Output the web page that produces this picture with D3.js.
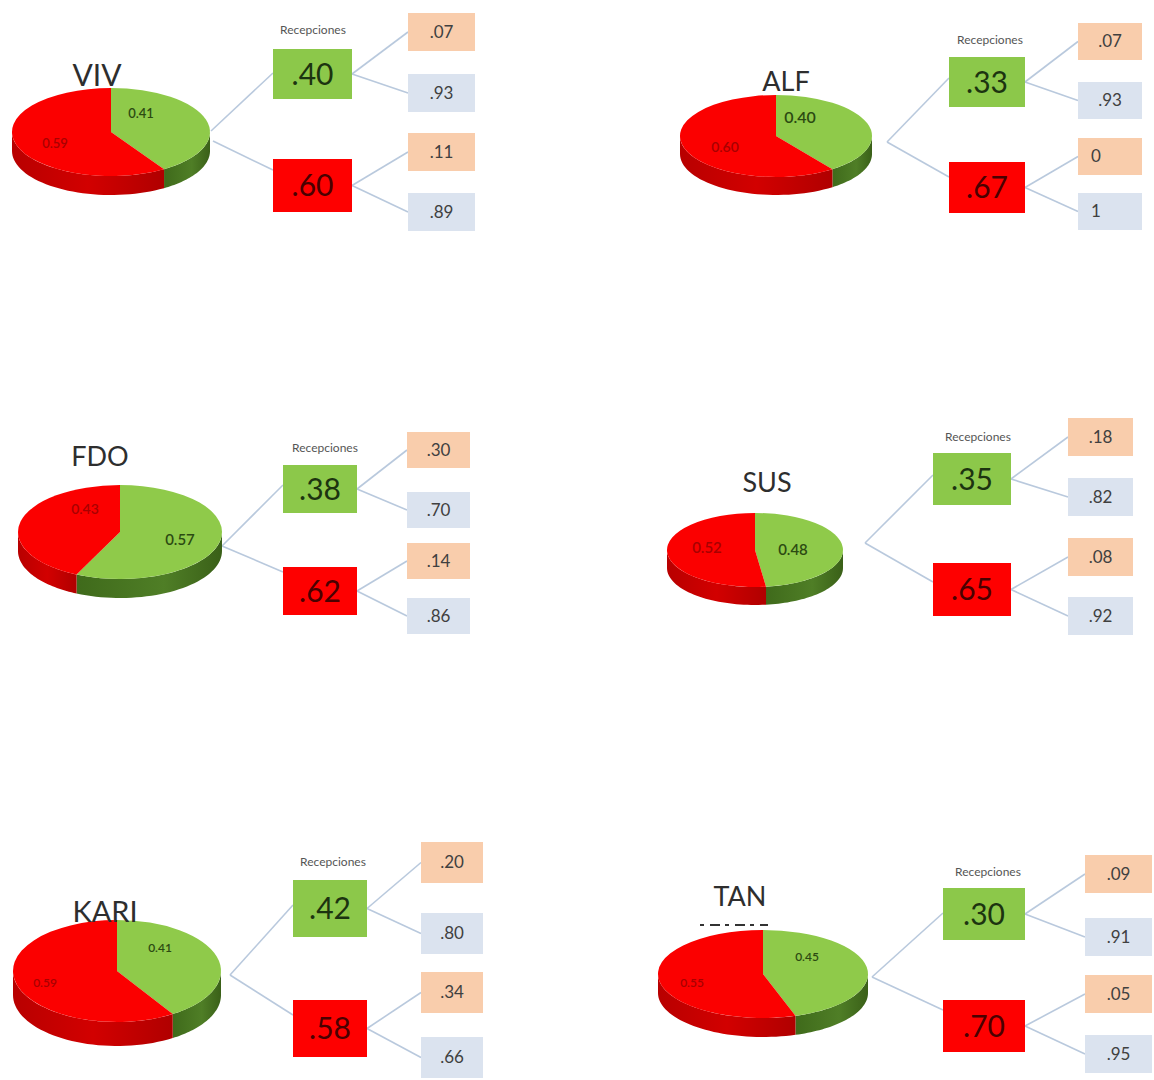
<!DOCTYPE html>
<html>
<head>
<meta charset="utf-8">
<script src="https://cdn.jsdelivr.net/npm/d3@7"></script>
<style>
  body { margin: 0; background: #fff; }
  text { font-family: Lato, "Open Sans", sans-serif; }
</style>
</head>
<body>
<div id="white"></div>
<script>
// values
var players = ["VIV", "ALF", "FDO", "SUS", "KARI", "TAN"];
var greenShare = [0.41, 0.40, 0.57, 0.48, 0.41, 0.45];
var redShare = [0.59, 0.60, 0.43, 0.52, 0.59, 0.55];
var recepGreen = [0.40, 0.33, 0.38, 0.35, 0.42, 0.30];
var recepRed = [0.60, 0.67, 0.62, 0.65, 0.58, 0.70];
var greenSplit = [[0.07, 0.93], [0.07, 0.93], [0.30, 0.70], [0.18, 0.82], [0.20, 0.80], [0.09, 0.91]];
var redSplit = [[0.11, 0.89], [0, 1], [0.14, 0.86], [0.08, 0.92], [0.34, 0.66], [0.05, 0.95]];
var branchTitle = "Recepciones";

// where each panel sits (layout only)
var layout = [
  {cx: 111, cy: 132, rx: 99, ry: 44, depth: 19, title: [97, 75, 30], gl: [141, 113, 13], rl: [55, 143, 13],
   gb: [273, 49, 79, 50], rb: [273, 159, 79, 53], rec: [313, 30], sx: 408, sw: 67, sy: [13, 74, 133, 193], sh: 38,
   a1: [211, 131], a2: [213, 141], gt: 73, rt: 170},
  {cx: 776, cy: 136, rx: 96, ry: 41, depth: 18, title: [786, 82, 27], gl: [800, 117, 16], rl: [725, 147, 14],
   gb: [949, 57, 76, 50], rb: [949, 162, 76, 51], rec: [990, 40], sx: 1078, sw: 64, sy: [23, 82, 138, 193], sh: 37,
   a1: [887, 142], a2: [887, 142], gt: 78, rt: 177},
  {cx: 120, cy: 532, rx: 102, ry: 47, depth: 19, title: [100, 457, 27], gl: [180, 540, 15], rl: [85, 509, 14],
   gb: [283, 465, 74, 48], rb: [283, 567, 74, 48], rec: [325, 448], sx: 407, sw: 63, sy: [432, 492, 543, 598], sh: 36,
   a1: [222, 546], a2: [222, 546], gt: 485, rt: 572},
  {cx: 755, cy: 550, rx: 88, ry: 37, depth: 18, title: [767, 483, 27], gl: [793, 550, 15], rl: [707, 548, 15],
   gb: [933, 453, 78, 52], rb: [933, 563, 78, 53], rec: [978, 437], sx: 1068, sw: 65, sy: [418, 478, 538, 597], sh: 38,
   a1: [865, 543], a2: [865, 543], gt: 475, rt: 582},
  {cx: 117, cy: 971, rx: 104, ry: 51, depth: 24, title: [105, 912, 29], gl: [160, 948, 12], rl: [45, 983, 12],
   gb: [293, 880, 74, 57], rb: [293, 1000, 74, 57], rec: [333, 862], sx: 421, sw: 62, sy: [842, 913, 972, 1037], sh: 41,
   a1: [230, 975], a2: [230, 975], gt: 905, rt: 1015},
  {cx: 763, cy: 974, rx: 105, ry: 44, depth: 19, title: [740, 897, 27], gl: [807, 957, 12], rl: [692, 983, 12],
   gb: [943, 888, 82, 52], rb: [943, 1000, 82, 52], rec: [988, 872], sx: 1085, sw: 67, sy: [855, 918, 975, 1035], sh: 38,
   a1: [872, 977], a2: [872, 977], gt: 913, rt: 1010}
];

var topColors = ["#8fca4a", "#fb0000"];
var labelColors = ["#2c4a12", "#a80000"];

function fmtBox(v) {
  if (v === Math.round(v)) return String(v);
  return d3.format(".2f")(v).replace(/^0/, "");
}

function main() {
  var svg = d3.select("#white").append("svg")
    .attr("width", 1154)
    .attr("height", 1080);

  var defs = svg.append("defs");
  var gSide = defs.append("linearGradient").attr("id", "sideGreen");
  gSide.append("stop").attr("offset", "0%").attr("stop-color", "#3f6a1b");
  gSide.append("stop").attr("offset", "60%").attr("stop-color", "#4f7e26");
  gSide.append("stop").attr("offset", "100%").attr("stop-color", "#3a6018");
  var rSide = defs.append("linearGradient").attr("id", "sideRed");
  rSide.append("stop").attr("offset", "0%").attr("stop-color", "#b80000");
  rSide.append("stop").attr("offset", "50%").attr("stop-color", "#d20000");
  rSide.append("stop").attr("offset", "100%").attr("stop-color", "#b00000");
  var sideFills = ["url(#sideGreen)", "url(#sideRed)"];

  var pie = d3.pie().sort(null).value(function(d) { return d; });
  var fmtPie = d3.format(".2f");

  players.forEach(function(name, i) {
    var L = layout[i];
    var g = svg.append("g");

    // connecting lines
    var lines = g.append("g").attr("stroke", "#b9c9dd").attr("stroke-width", 1.6).attr("fill", "none");
    lines.append("line").attr("x1", L.a1[0]).attr("y1", L.a1[1]).attr("x2", L.gb[0]).attr("y2", L.gt);
    lines.append("line").attr("x1", L.a2[0]).attr("y1", L.a2[1]).attr("x2", L.rb[0]).attr("y2", L.rt);
    var gy = L.gb[1] + L.gb[3] / 2, ry = L.rb[1] + L.rb[3] / 2;
    var starts = [[L.gb[0] + L.gb[2], gy], [L.gb[0] + L.gb[2], gy], [L.rb[0] + L.rb[2], ry], [L.rb[0] + L.rb[2], ry]];
    L.sy.forEach(function(y, k) {
      lines.append("line")
        .attr("x1", starts[k][0]).attr("y1", starts[k][1])
        .attr("x2", L.sx).attr("y2", y + L.sh / 2);
    });

    // 3D pie: sides first, then top
    var arcs = pie([greenShare[i], redShare[i]]);
    var ellipse = function(t, dy) {
      return [L.cx + L.rx * Math.sin(t), L.cy - L.ry * Math.cos(t) + dy];
    };
    var lineGen = d3.line();
    arcs.forEach(function(a, k) {
      var s = Math.max(a.startAngle, Math.PI / 2);
      var e = Math.min(a.endAngle, 3 * Math.PI / 2);
      if (s >= e) return;
      var pts = [];
      var n = 40;
      for (var j = 0; j <= n; j++) pts.push(ellipse(s + (e - s) * j / n, 0));
      for (var j2 = n; j2 >= 0; j2--) pts.push(ellipse(s + (e - s) * j2 / n, L.depth));
      g.append("path").attr("d", lineGen(pts) + "Z").attr("fill", sideFills[k]);
    });
    var arc = d3.arc().innerRadius(0).outerRadius(L.rx);
    g.append("g")
      .attr("transform", "translate(" + L.cx + "," + L.cy + ") scale(1," + (L.ry / L.rx) + ")")
      .selectAll("path")
      .data(arcs)
      .enter().append("path")
      .attr("d", arc)
      .attr("fill", function(d, k) { return topColors[k]; });

    // pie labels
    [[L.gl, greenShare[i], 0], [L.rl, redShare[i], 1]].forEach(function(p) {
      g.append("text")
        .attr("x", p[0][0]).attr("y", p[0][1]).attr("dy", "0.35em")
        .attr("text-anchor", "middle")
        .attr("font-size", p[0][2] + "px")
        .attr("font-weight", 600)
        .attr("fill", labelColors[p[2]])
        .text(fmtPie(p[1]));
    });

    // player name
    g.append("text")
      .attr("x", L.title[0]).attr("y", L.title[1]).attr("dy", "0.35em")
      .attr("text-anchor", "middle")
      .attr("font-size", L.title[2] + "px")
      .attr("fill", "#2e2e2e")
      .text(name);
    if (name === "TAN") {
      g.append("line")
        .attr("x1", 700).attr("x2", 768).attr("y1", 925).attr("y2", 925)
        .attr("stroke", "#333").attr("stroke-width", 2)
        .attr("stroke-dasharray", "4,6,10,5");
    }

    // branch title
    g.append("text")
      .attr("x", L.rec[0]).attr("y", L.rec[1]).attr("dy", "0.35em")
      .attr("text-anchor", "middle")
      .attr("font-size", "12px")
      .attr("fill", "#555")
      .text(branchTitle);

    // big boxes
    [[L.gb, recepGreen[i], "#8cc84a", "#1c3410"], [L.rb, recepRed[i], "#fe0000", "#4a0000"]].forEach(function(b) {
      g.append("rect")
        .attr("x", b[0][0]).attr("y", b[0][1])
        .attr("width", b[0][2]).attr("height", b[0][3])
        .attr("fill", b[2]);
      g.append("text")
        .attr("x", b[0][0] + b[0][2] / 2).attr("y", b[0][1] + b[0][3] / 2).attr("dy", "0.36em")
        .attr("text-anchor", "middle")
        .attr("font-size", "30px")
        .attr("fill", b[3])
        .text(fmtBox(b[1]));
    });

    // small boxes
    var smallVals = [greenSplit[i][0], greenSplit[i][1], redSplit[i][0], redSplit[i][1]];
    var smallFill = ["#f9cdac", "#dbe3ef", "#f9cdac", "#dbe3ef"];
    smallVals.forEach(function(v, k) {
      g.append("rect")
        .attr("x", L.sx).attr("y", L.sy[k])
        .attr("width", L.sw).attr("height", L.sh)
        .attr("fill", smallFill[k]);
      var isInt = v === Math.round(v);
      g.append("text")
        .attr("x", isInt ? L.sx + 18 : L.sx + L.sw / 2).attr("y", L.sy[k] + L.sh / 2).attr("dy", "0.35em")
        .attr("text-anchor", "middle")
        .attr("font-size", "17px")
        .attr("fill", "#404040")
        .text(fmtBox(v));
    });
  });
}

main();
</script>
</body>
</html>
